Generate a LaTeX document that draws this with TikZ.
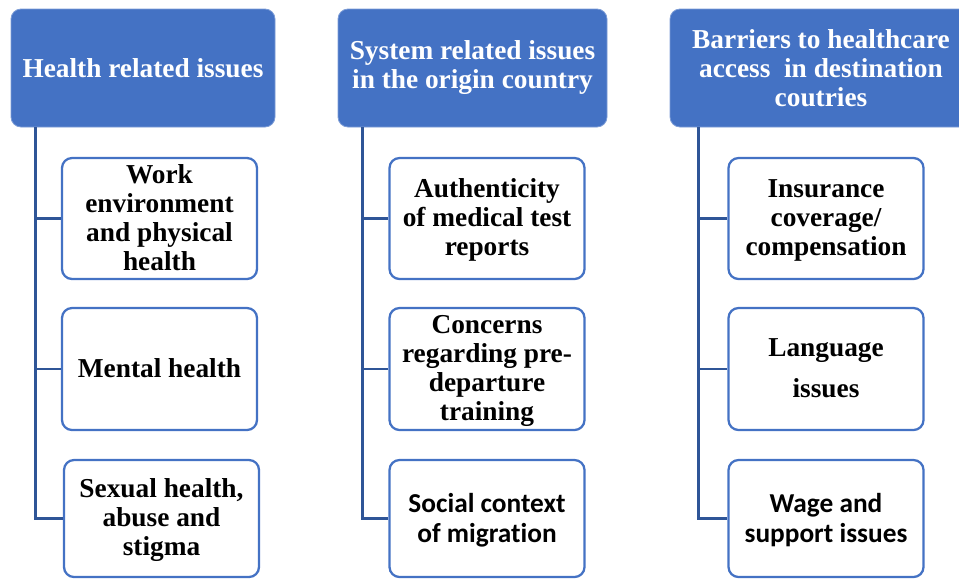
\documentclass[tikz,border=0pt]{standalone}
\usepackage{fontspec}
\setmainfont{Liberation Serif}
\newfontfamily\calfont[Ligatures=NoCommon]{Carlito}
\usetikzlibrary{calc}
\definecolor{hdrblue}{HTML}{4472C4}
\definecolor{linkblue}{HTML}{2F5597}
\tikzset{
  hdr/.style={fill=hdrblue, draw=hdrblue!70!white, line width=0.6pt,
    rounded corners=7.5pt, text=white, align=center, inner sep=0pt,
    font=\bfseries\fontsize{20.5}{21.75}\selectfont},
  item/.style={draw=hdrblue, line width=1.7pt, fill=white,
    rounded corners=7.5pt, align=center, inner sep=0pt,
    minimum width=146.25pt, text=black, text depth=1.5pt,
    font=\bfseries\fontsize{20.5}{21.75}\selectfont},
  sansitem/.style={item, font=\calfont\bfseries\fontsize{20.5}{22.5}\selectfont},
  link/.style={draw=linkblue, line width=2pt}
}
\begin{document}
\begin{tikzpicture}[x=0.75pt,y=-0.75pt]
\useasboundingbox (0,0) rectangle (959,579);
\clip (0,0) rectangle (959,579);

% column headers
\node[hdr, minimum width=198pt, minimum height=88.5pt] (h1) at (143,68)
  {Health related issues};
\node[hdr, minimum width=201.75pt, minimum height=88.5pt] (h2) at (472.5,68)
  {System related issues\\in the origin country};
\node[hdr, minimum width=226.5pt, minimum height=88.5pt] (h3) at (821,68)
  {Barriers to healthcare\\access\ \ in destination\\coutries};

% trunk start points under each header
\coordinate (t1) at ($(h1.south west)+(25,0)$);
\coordinate (t2) at ($(h2.south west)+(25,0)$);
\coordinate (t3) at ($(h3.south west)+(29,0)$);

% first column
\node[item, minimum height=90.75pt] (a1) at (159.5,218.5)
  {Work\\environment\\and physical\\health};
\node[item, minimum height=91.5pt] (a2) at (159.5,369)
  {Mental health};
\node[item, minimum height=87.75pt] (a3) at (161.5,518.5)
  {Sexual health,\\abuse and\\stigma};

% second column
\node[item, minimum height=90.75pt] (b1) at (487,218.5)
  {Authenticity\\of medical test\\reports};
\node[item, minimum height=91.5pt] (b2) at (487,369)
  {Concerns\\regarding pre-\\departure\\training};
\node[sansitem, minimum height=87.75pt] (b3) at (487,518.5)
  {Social context\\of migration};

% third column
\node[item, minimum height=90.75pt] (c1) at (826,218.5)
  {Insurance\\coverage/\\compensation};
\node[item, minimum height=91.5pt] (c2) at (826,369)
  {Language\\[8.5pt]issues};
\node[sansitem, minimum height=87.75pt] (c3) at (826,518.5)
  {Wage and\\support issues};

% connectors
\foreach \t/\n in {t1/a1,t1/a2,t1/a3,t2/b1,t2/b2,t2/b3,t3/c1,t3/c2,t3/c3}
  \draw[link] (\t) |- (\n.west);
\end{tikzpicture}
\end{document}
